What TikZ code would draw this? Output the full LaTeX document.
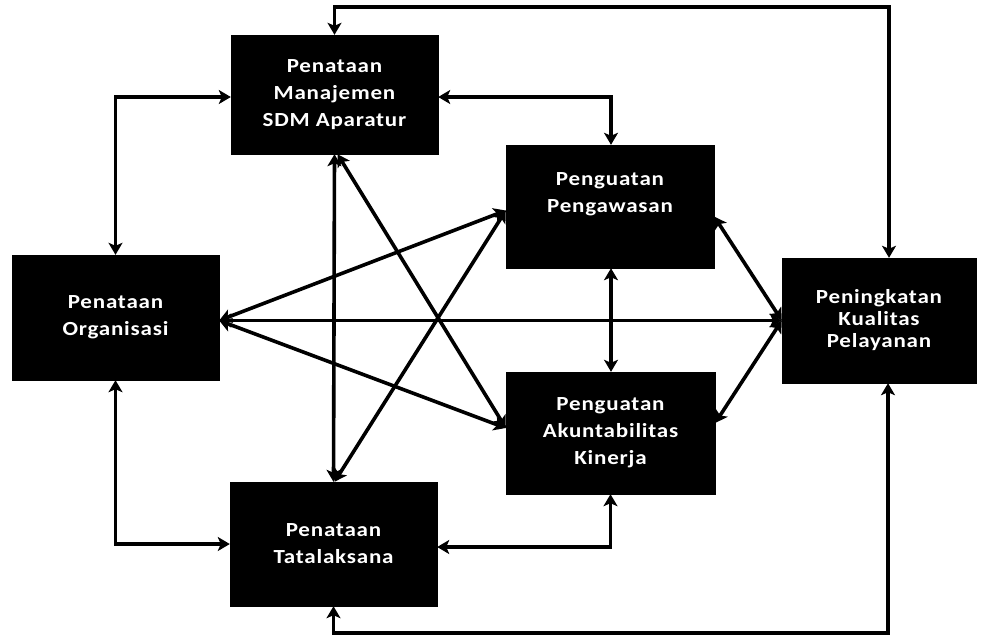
\documentclass[tikz,border=0pt]{standalone}
\usepackage{fontspec}
\setmainfont{Carlito}
\newfontfamily\boxfont{Carlito}[FakeStretch=1.15,LetterSpace=4]
\usetikzlibrary{arrows.meta}
\begin{document}
\begin{tikzpicture}[x=1pt,y=-1pt,
  box/.style={fill=black,draw=black,text=white,font=\boxfont\bfseries\fontsize{20}{27}\selectfont,align=center,inner sep=0pt},
  tip/.tip={Stealth[length=12pt,width=14pt,inset=3pt]},
  conn/.style={line width=3.6pt,tip-tip}]
\useasboundingbox[fill=white] (0,0) rectangle (982,641);
\node[box,minimum width=207pt,minimum height=119pt] (sdm) at (334.5,94.5) {Penataan\\Manajemen\\SDM Aparatur};
\node[box,minimum width=208pt,minimum height=123pt] (pen) at (610,206.5) {Penguatan\\Pengawasan\\~};
\node[box,minimum width=207pt,minimum height=125pt] (org) at (115.5,317.5) {Penataan\\Organisasi};
\node[box,minimum width=194pt,minimum height=125pt,font=\boxfont\bfseries\fontsize{20}{22}\selectfont] (pel) at (879,320.5) {Peningkatan\\Kualitas\\Pelayanan};
\node[box,minimum width=209pt,minimum height=122pt] (aku) at (610.5,433) {Penguatan\\Akuntabilitas\\Kinerja};
\node[box,minimum width=207pt,minimum height=124pt] (tat) at (333.5,544) {Penataan\\Tatalaksana};
\coordinate (top) at (0,7);
\coordinate (bot) at (0,633);
% orthogonal connectors
\draw[conn] (org.north) |- ([yshift=-2.5pt]sdm.west);
\draw[conn] (org.south) |- (tat.west);
\draw[conn] ([yshift=-2.5pt]sdm.east) -| ([xshift=1pt]pen.north);
\draw[conn] ([xshift=1pt]pen.south) -- ([xshift=0.5pt]aku.south |- aku.north);
\draw[conn] (aku.south) |- ([yshift=-3pt]tat.east);
\draw[conn] (sdm.north) -- (sdm.north |- top) -| ([xshift=10pt]pel.north);
\draw[conn] (tat.south) -- (tat.south |- bot) -| ([xshift=9pt]pel.south);
\draw[conn] (sdm.south) -- (tat.north);
% diagonals
\draw[conn] ([yshift=-3pt]org.east) -- (pel.west);
\draw[conn] ([yshift=-3pt]org.east) -- ([yshift=-4pt]pen.west);
\draw[conn] ([yshift=-3pt]org.east) -- ([yshift=5pt]aku.west);
\draw[conn] ([xshift=3pt]sdm.south) -- ([yshift=5pt]aku.west);
\draw[conn] ([yshift=-4pt]pen.west) -- ([xshift=1pt]tat.north);
\draw[conn] ([yshift=-10pt]pen.east) -- (pel.west);
\draw[conn] ([yshift=10pt]aku.east) -- (pel.west);
\end{tikzpicture}
\end{document}
